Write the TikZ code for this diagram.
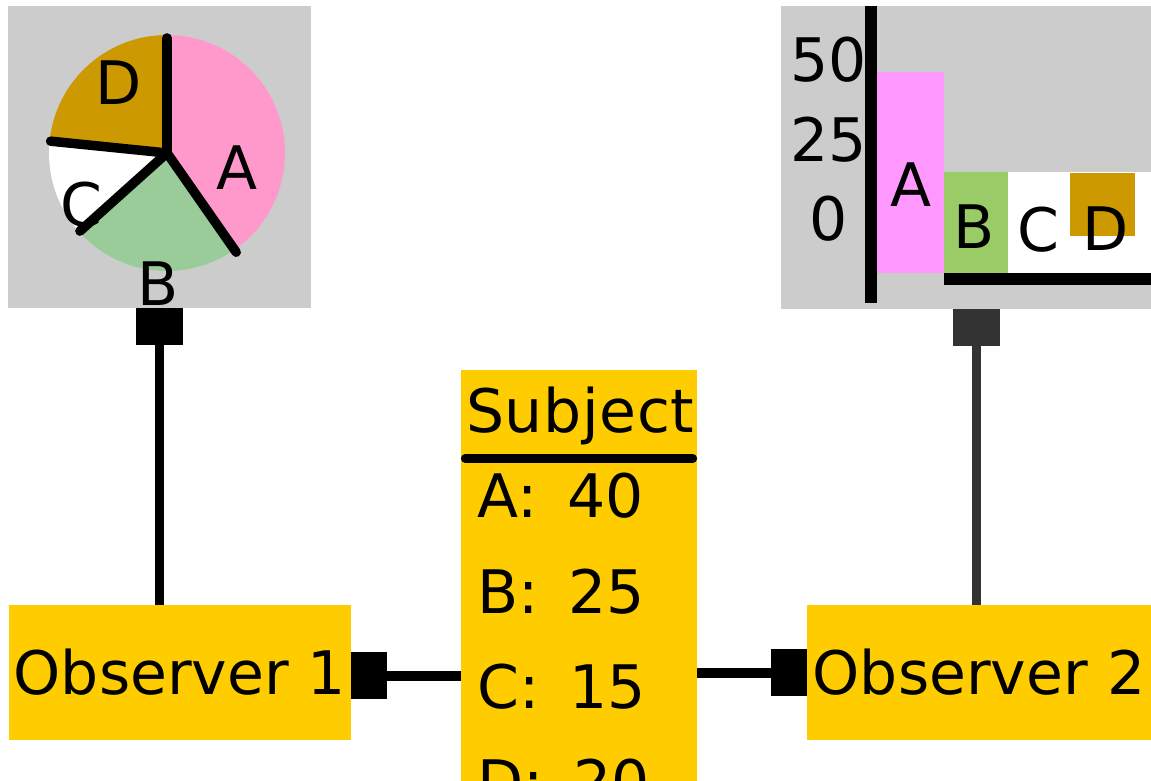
\documentclass[tikz,border=0pt]{standalone}
\usepackage{fontspec}
\setmainfont{DejaVu Sans}
\usetikzlibrary{arrows.meta,calc}
\definecolor{panelgray}{HTML}{CCCCCC}
\definecolor{piepink}{HTML}{FF99CC}
\definecolor{piegreen}{HTML}{99CC99}
\definecolor{gold}{HTML}{CC9900}
\definecolor{barpink}{HTML}{FF99FF}
\definecolor{bargreen}{HTML}{99CC66}
\definecolor{boxyellow}{HTML}{FFCC00}
\definecolor{darkline}{HTML}{333333}
\begin{document}
\begin{tikzpicture}[x=1pt,y=1pt,
  big/.style={font=\fontsize{60}{72}\selectfont, inner sep=0pt},
  panel/.style={fill=panelgray, inner sep=0pt},
  ybox/.style={fill=boxyellow, inner sep=0pt, font=\fontsize{60}{72}\selectfont},
  pieline/.style={line width=9.5pt, line cap=round, black},
  conn/.style={line width=9pt, -{Square[length=37pt,width=47pt]}},
  hconn/.style={line width=10pt, -{Square[length=36pt,width=47pt]}}]
\useasboundingbox (0,0) rectangle (1151,780);

% ---------- pie panel ----------
\node[panel, minimum width=303pt, minimum height=302pt] (piebox) at (159.5,623) {};
\coordinate (pc) at (167,627);
\fill[piepink]  (pc) -- ++(-55.1:118pt) arc[start angle=-55.1, end angle=90, radius=118pt] -- cycle;
\fill[gold]     (pc) -- ++(90:118pt) arc[start angle=90, end angle=174.2, radius=118pt] -- cycle;
\fill[white]    (pc) -- ++(174.2:118pt) arc[start angle=174.2, end angle=221.9, radius=118pt] -- cycle;
\fill[piegreen] (pc) -- ++(221.9:118pt) arc[start angle=221.9, end angle=304.9, radius=118pt] -- cycle;
\draw[pieline] (pc) -- ++(90:115pt);
\draw[pieline] (pc) -- ++(174.2:117pt);
\draw[pieline] (pc) -- ++(221.9:117pt);
\draw[pieline] (pc) -- ++(-55.1:121pt);
\node[big] (pD) at (119,697.5) {D};
\node[big] (pA) at (237,612) {A};
\node[big] (pC) at (81,575) {C};
\node[big] (pB) at (158,496.5) {B};

% ---------- bar panel ----------
\node[panel, minimum width=370pt, minimum height=303pt] (barbox) at (966,622.5) {};
\fill[white] (1008,507) rectangle (1151,608);
\fill[barpink] (877,507) rectangle (944,708);
\fill[bargreen] (944,507) rectangle (1008,608);
\fill[gold] (1070,544) rectangle (1135,607);
\draw[line width=12pt] (871,774) -- (871,477);
\draw[line width=12pt] (944,501) -- (1151,501);
\node[big] (t50) at (829,720) {50};
\node[big] (t25) at (829,640) {25};
\node[big] (t0) at (829,561.5) {0};
\node[big] (bA) at (911.5,595.5) {A};
\node[big] (bB) at (974.5,553) {B};
\node[big] (bC) at (1038,550.5) {C};
\node[big] (bD) at (1105.5,551) {D};

% ---------- subject ----------
\node[fill=boxyellow, inner sep=0pt, minimum width=236pt, minimum height=460pt] (subj) at (579,180) {};
\node[big, anchor=base west] (stitle) at (466,347) {S\kern0.6pt u\kern0.6pt b\kern0.6pt j\kern0.6pt e\kern0.6pt c\kern0.6pt t};
\draw[line width=9pt, line cap=round] ($(subj.west |- 0,321.5)+(4.5,0)$) -- ($(subj.east |- 0,321.5)+(-4.5,0)$);
\node[big, anchor=base west] (sA) at (477,263) {A: \hspace{11pt}40};
\node[big, anchor=base west] (sB) at (477,167) {B: \hspace{11pt}25};
\node[big, anchor=base west] (sC) at (477,72) {C: \hspace{11pt}15};
\node[big, anchor=base west] (sD) at (477,-23) {D: \hspace{11pt}20};

% ---------- observers ----------
\node[ybox, minimum width=342pt, minimum height=135pt] (obs1) at (180,107.5) {Observer 1};
\node[ybox, minimum width=344pt, minimum height=135pt] (obs2) at (979,107.5) {Observer 2};

% ---------- connectors ----------
\draw[conn, black] (obs1.north -| piebox.south) -- (piebox.south);
\draw[conn, darkline] ([xshift=-3pt]obs2.north) -- ([xshift=-3pt]obs2.north |- barbox.south);
\draw[hconn, black] ([yshift=-3pt]subj.west |- obs1.east) -- ([yshift=-3pt]obs1.east);
\draw[hconn, black] (subj.east |- obs2.west) -- (obs2.west);
\end{tikzpicture}
\end{document}
